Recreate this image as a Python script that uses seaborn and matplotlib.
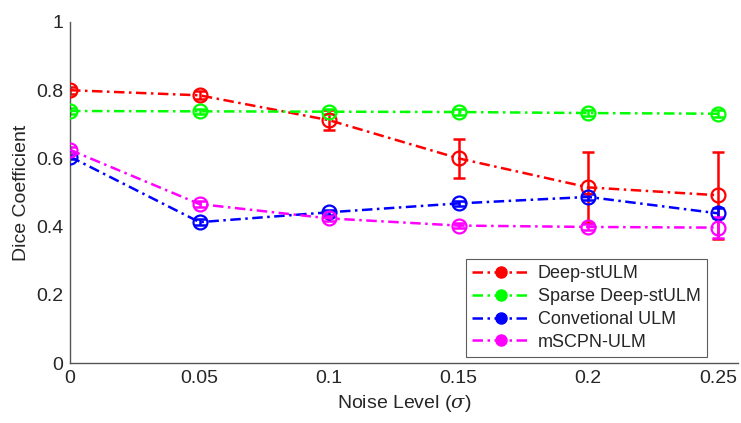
import matplotlib
matplotlib.use("Agg")
import matplotlib.pyplot as plt
import seaborn as sns
import pandas as pd
from matplotlib.lines import Line2D

noise = [0, 0.05, 0.1, 0.15, 0.2, 0.25]
series_names = ["Deep-stULM", "Sparse Deep-stULM", "Convetional ULM", "mSCPN-ULM"]
deep = [0.800, 0.785, 0.712, 0.600, 0.515, 0.492]
deep_err = [0.010, 0.012, 0.030, 0.057, 0.105, 0.128]
sparse = [0.739, 0.738, 0.737, 0.736, 0.733, 0.731]
sparse_err = [0.008, 0.008, 0.008, 0.008, 0.008, 0.010]
conv = [0.605, 0.413, 0.442, 0.468, 0.487, 0.439]
conv_err = [0.008, 0.008, 0.008, 0.008, 0.010, 0.015]
mscpn = [0.625, 0.466, 0.424, 0.403, 0.399, 0.397]
mscpn_err = [0.008, 0.008, 0.008, 0.008, 0.008, 0.030]
colors = ["#ff0000", "#00ff00", "#0000ff", "#ff00ff"]
xticks = [0, 0.05, 0.1, 0.15, 0.2, 0.25]
xticklabels = ["0", "0.05", "0.1", "0.15", "0.2", "0.25"]
yticks = [0, 0.2, 0.4, 0.6, 0.8, 1.0]
yticklabels = ["0", "0.2", "0.4", "0.6", "0.8", "1"]

sns.set_style("white")
plt.rcParams["font.family"] = ["Liberation Sans", "DejaVu Sans"]
plt.rcParams["mathtext.fontset"] = "dejavuserif"

values = [deep, sparse, conv, mscpn]
errs = [deep_err, sparse_err, conv_err, mscpn_err]
rows = []
for name, vals in zip(series_names, values):
    for x, v in zip(noise, vals):
        rows.append({"noise": x, "dice": v, "method": name})
df = pd.DataFrame(rows)

fig = plt.figure(figsize=(7.41, 4.23), dpi=100)
ax = fig.add_axes([70 / 741, 60 / 423, 668 / 741, 341 / 423])

dash = (4.2, 1.8, 1, 1.8)
sns.lineplot(data=df, x="noise", y="dice", hue="method", style="method",
             palette=dict(zip(series_names, colors)),
             dashes={n: dash for n in series_names},
             markers={n: "o" for n in series_names},
             markersize=10, markerfacecolor="none", markeredgewidth=1.6,
             linewidth=1.8, legend=False, ax=ax, zorder=3)
for line, c in zip(ax.lines, colors):
    line.set_markeredgecolor(c)
    line.set_markerfacecolor("none")

for vals, e, c in zip(values, errs, colors):
    ax.errorbar(noise, vals, yerr=e, fmt="none", ecolor=c, elinewidth=1.8,
                capsize=4, capthick=1.8, zorder=2)

ax.set_xlim(0, 0.2578)
ax.set_ylim(0, 1)
ax.set_xticks(xticks)
ax.set_xticklabels(xticklabels)
ax.set_yticks(yticks)
ax.set_yticklabels(yticklabels)
ax.tick_params(direction="in", length=4, width=0.8, colors="#262626",
               labelsize=14, pad=5)
for s in ["top", "right"]:
    ax.spines[s].set_visible(False)
for s in ["left", "bottom"]:
    ax.spines[s].set_color("#555555")
    ax.spines[s].set_linewidth(1.0)

ax.set_xlabel(r"Noise Level ($\sigma$)", fontsize=14, color="#262626", labelpad=4)
ax.set_ylabel("Dice Coefficient", fontsize=14, color="#262626", labelpad=4)

handles = [Line2D([0], [0], color=c, linewidth=1.8, dashes=dash, marker="o",
                  markersize=8, markerfacecolor=c, markeredgecolor=c)
           for c in colors]
leg = ax.legend(handles, series_names, loc="lower right",
                bbox_to_anchor=(637 / 668, 6 / 341), fontsize=13,
                frameon=True, fancybox=False, edgecolor="#333333",
                handlelength=3.2, handletextpad=0.45, borderpad=0.35,
                labelspacing=0.32, borderaxespad=0)
leg.get_frame().set_linewidth(0.8)

fig.savefig("out.png", dpi=100, facecolor="white")
